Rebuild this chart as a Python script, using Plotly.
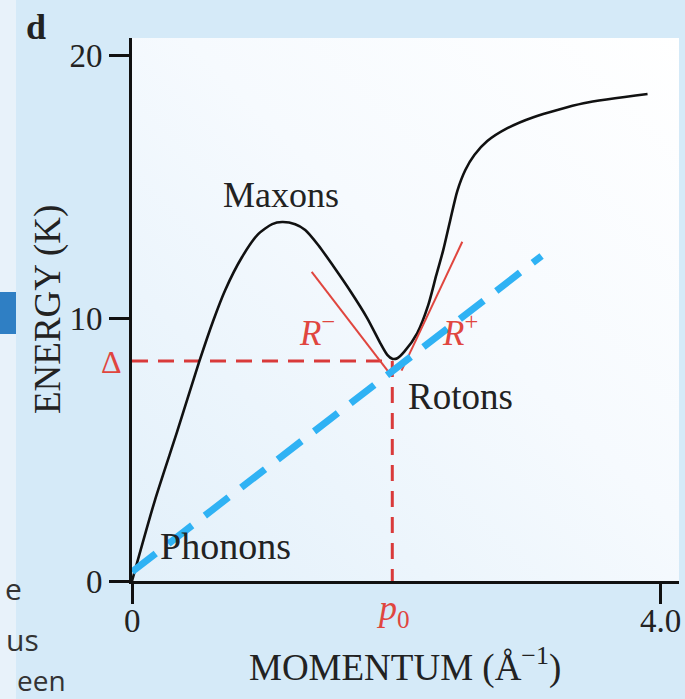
import base64
import plotly.graph_objects as go

# ---- data ----
momentum = [0.0, 0.174, 0.341, 0.508, 0.614, 0.705, 0.833, 0.955, 1.061, 1.136,
            1.235, 1.311, 1.409, 1.523, 1.652, 1.780, 1.879, 1.932, 1.97, 2.008,
            2.061, 2.159, 2.242, 2.303, 2.356, 2.409, 2.462, 2.523, 2.591, 2.689,
            2.841, 3.038, 3.417, 3.902]
energy = [0.0, 3.08, 5.67, 8.33, 9.89, 11.06, 12.32, 13.19, 13.57, 13.65,
          13.57, 13.35, 12.78, 11.98, 11.03, 10.0, 9.05, 8.6, 8.45, 8.47,
          8.72, 9.43, 10.49, 11.63, 12.59, 13.73, 14.83, 15.63, 16.2, 16.73,
          17.22, 17.64, 18.17, 18.52]

p0 = 1.97
delta = 8.37

r_minus_x = [1.36, 1.94]
r_minus_y = [11.76, 7.96]
r_plus_x = [2.04, 2.50]
r_plus_y = [8.0, 12.9]

blue_x = [0.0, 3.10]
blue_y = [0.35, 12.36]

x_tickvals = [0, 4.0]
x_ticktext = ["0", "4.0"]
y_tickvals = [0, 10, 20]
y_ticktext = ["0", "10", "20"]

RED = "#D93A3A"
RED2 = "#E0463F"
BLUE = "#2FB2F4"
SERIF = "Liberation Serif"
TXT = "#222222"

fig = go.Figure()

# red dashed guide lines
fig.add_trace(go.Scatter(x=[0, p0], y=[delta, delta], mode="lines",
                         line=dict(color=RED, width=3, dash="16px,10px"), hoverinfo="skip"))
fig.add_trace(go.Scatter(x=[p0, p0], y=[delta, 0], mode="lines",
                         line=dict(color=RED, width=3, dash="16px,10px"), hoverinfo="skip"))
# dispersion curve
fig.add_trace(go.Scatter(x=momentum, y=energy, mode="lines",
                         line=dict(color="#111111", width=2.6, shape="spline", smoothing=0.7)))
# roton tangents
fig.add_trace(go.Scatter(x=r_minus_x, y=r_minus_y, mode="lines",
                         line=dict(color=RED2, width=2)))
fig.add_trace(go.Scatter(x=r_plus_x, y=r_plus_y, mode="lines",
                         line=dict(color=RED2, width=2)))
# blue dashed line
fig.add_trace(go.Scatter(x=blue_x, y=blue_y, mode="lines",
                         line=dict(color=BLUE, width=7, dash="30px,16px")))

# soft gradient for the plot panel
svg = ('<svg xmlns="http://www.w3.org/2000/svg" width="547" height="543" '
       'preserveAspectRatio="none">'
       '<defs><linearGradient id="g" x1="0" y1="1" x2="1" y2="0">'
       '<stop offset="0" stop-color="#E2F0FA"/>'
       '<stop offset="0.55" stop-color="#F6FAFE"/>'
       '<stop offset="1" stop-color="#FFFFFF"/>'
       '</linearGradient></defs>'
       '<rect width="547" height="543" fill="url(#g)"/></svg>')
svg_uri = "data:image/svg+xml;base64," + base64.b64encode(svg.encode()).decode()

fig.update_layout(
    width=685, height=699,
    margin=dict(l=132, r=6, t=38, b=118),
    paper_bgcolor="#D5EAF8",
    plot_bgcolor="#F4F9FD",
    showlegend=False,
    font=dict(family=SERIF, color=TXT),
    images=[dict(source=svg_uri, xref="paper", yref="paper", x=0, y=1,
                 sizex=1, sizey=1, sizing="stretch", xanchor="left", yanchor="top",
                 layer="below")],
)

fig.update_xaxes(range=[0, 4.14], showgrid=False, zeroline=False,
                 showline=True, linecolor="#111111", linewidth=3,
                 ticks="outside", ticklen=20, tickwidth=3, tickcolor="#111111",
                 tickvals=x_tickvals, ticktext=x_ticktext, showticklabels=False)
fig.update_yaxes(range=[0, 20.65], showgrid=False, zeroline=False,
                 showline=True, linecolor="#111111", linewidth=3,
                 ticks="outside", ticklen=20, tickwidth=3, tickcolor="#111111",
                 tickvals=y_tickvals, ticktext=y_ticktext,
                 tickfont=dict(family=SERIF, size=33, color=TXT))

# x tick labels placed on the data axis
for v, t in zip(x_tickvals, x_ticktext):
    fig.add_annotation(text=t, x=v, xref="x", yref="paper", y=-40 / 543,
                       yanchor="middle", xanchor="center", showarrow=False,
                       font=dict(family=SERIF, size=33, color=TXT))

# left strip artifacts
fig.add_shape(type="rect", xref="paper", yref="paper", x0=-132/547, x1=-116/547,
              y0=-118/543, y1=1 + 38/543, fillcolor="#E8F2FA", line_width=0, layer="below")
fig.add_shape(type="rect", xref="paper", yref="paper", x0=-132/547, x1=-116/547,
              y0=(581-334)/543, y1=(581-292)/543, fillcolor="#2F7FC4", line_width=0, layer="below")

def px_annot(text, xpx, ypx, size, color=TXT, xanchor="center", yanchor="middle",
             textangle=0, family=SERIF):
    fig.add_annotation(text=text, xref="paper", yref="paper",
                       x=(xpx - 132) / 547, y=(581 - ypx) / 543,
                       xanchor=xanchor, yanchor=yanchor, showarrow=False,
                       textangle=textangle,
                       font=dict(family=family, size=size, color=color))

px_annot("<b>d</b>", 36, 27, 36)
px_annot("Maxons", 281, 195, 36)
px_annot("<i>R</i><sup>−</sup>", 317, 330, 35, color=RED2)
px_annot("<i>R</i><sup>+</sup>", 460, 330, 35, color=RED2)
px_annot("Rotons", 406, 396, 37, xanchor="left")
px_annot("Phonons", 158, 546, 38, xanchor="left")
px_annot("Δ", 111, 362, 32, color=RED2)
px_annot("<i>p</i><sub>0</sub>", 393, 610, 36, color=RED2)
px_annot("MOMENTUM (Å<sup>−1</sup>)", 405, 665, 37)
px_annot("ENERGY (K)", 48, 310, 37, textangle=-90)
px_annot("e", 24, 588, 30, xanchor="right", family="Open Sans", color="#333333")
px_annot("us", 41, 639, 30, xanchor="right", family="Open Sans", color="#333333")
px_annot("een", 68, 680, 28, xanchor="right", family="Open Sans", color="#333333")

fig.write_html("out.html")
